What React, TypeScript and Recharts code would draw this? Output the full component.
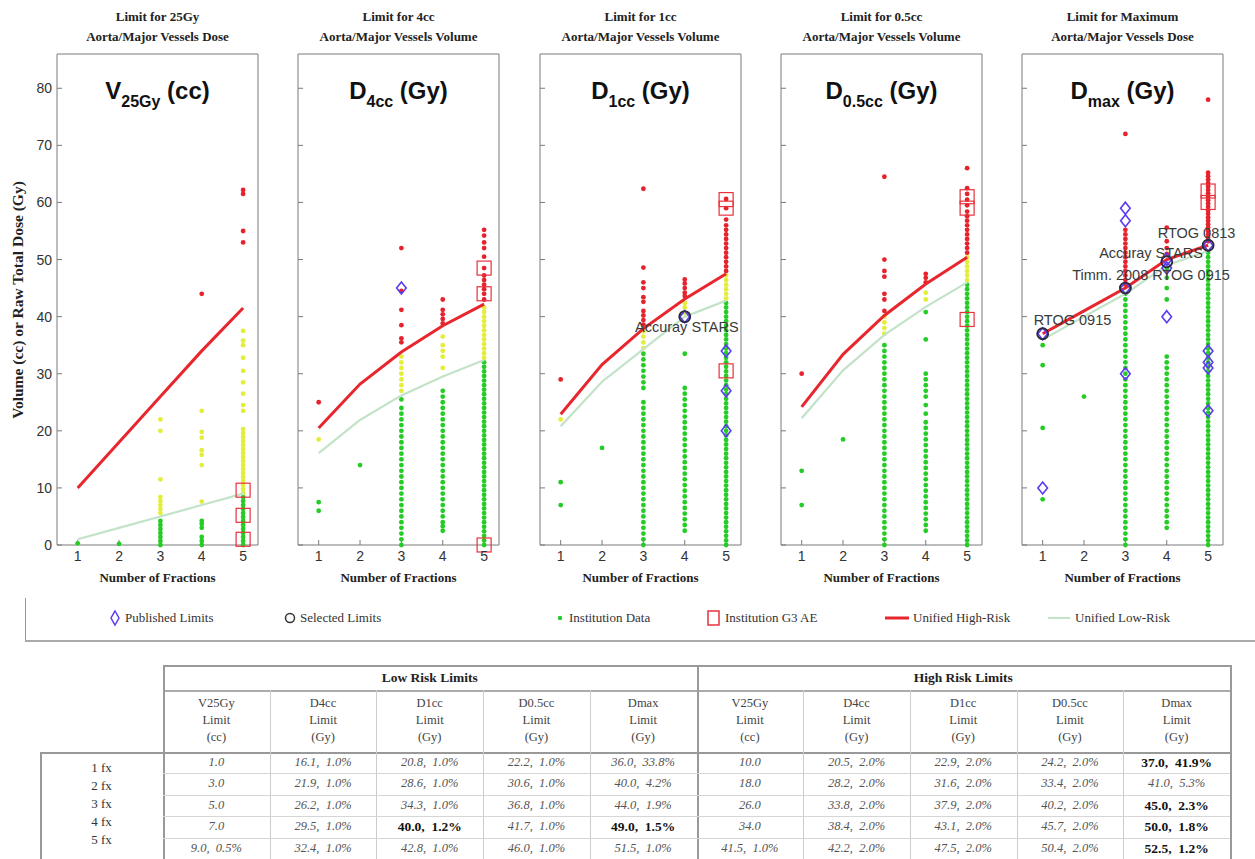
import React from 'react';
import { ScatterChart, Scatter, XAxis, YAxis } from 'recharts';

// ---------- categories / ticks ----------
const FRACTIONS = [1, 2, 3, 4, 5];
const Y_TICKS = [0, 10, 20, 30, 40, 50, 60, 70, 80];
const FX_LABELS = ['1 fx', '2 fx', '3 fx', '4 fx', '5 fx'];

const TITLE_LINE1 = ['Limit for 25Gy', 'Limit for 4cc', 'Limit for 1cc', 'Limit for 0.5cc', 'Limit for Maximum'];
const TITLE_LINE2 = ['Aorta/Major Vessels Dose', 'Aorta/Major Vessels Volume', 'Aorta/Major Vessels Volume', 'Aorta/Major Vessels Volume', 'Aorta/Major Vessels Dose'];
const METRIC_MAIN = ['V', 'D', 'D', 'D', 'D'];
const METRIC_SUB = ['25Gy', '4cc', '1cc', '0.5cc', 'max'];
const METRIC_UNIT = ['(cc)', '(Gy)', '(Gy)', '(Gy)', '(Gy)'];
const TABLE_METRIC = ['V25Gy', 'D4cc', 'D1cc', 'D0.5cc', 'Dmax'];

// ---------- limits (unified low / high risk) ----------
const LOW_V25 = [1.0, 3.0, 5.0, 7.0, 9.0];
const LOW_D4CC = [16.1, 21.9, 26.2, 29.5, 32.4];
const LOW_D1CC = [20.8, 28.6, 34.3, 40.0, 42.8];
const LOW_D05CC = [22.2, 30.6, 36.8, 41.7, 46.0];
const LOW_DMAX = [36.0, 40.0, 44.0, 49.0, 51.5];
const HIGH_V25 = [10.0, 18.0, 26.0, 34.0, 41.5];
const HIGH_D4CC = [20.5, 28.2, 33.8, 38.4, 42.2];
const HIGH_D1CC = [22.9, 31.6, 37.9, 43.1, 47.5];
const HIGH_D05CC = [24.2, 33.4, 40.2, 45.7, 50.4];
const HIGH_DMAX = [37.0, 41.0, 45.0, 50.0, 52.5];

const LOW_V25_PCT = ['', '', '', '', '0.5%'];
const LOW_D4CC_PCT = ['1.0%', '1.0%', '1.0%', '1.0%', '1.0%'];
const LOW_D1CC_PCT = ['1.0%', '1.0%', '1.0%', '1.2%', '1.0%'];
const LOW_D05CC_PCT = ['1.0%', '1.0%', '1.0%', '1.0%', '1.0%'];
const LOW_DMAX_PCT = ['33.8%', '4.2%', '1.9%', '1.5%', '1.0%'];
const HIGH_V25_PCT = ['', '', '', '', '1.0%'];
const HIGH_D4CC_PCT = ['2.0%', '2.0%', '2.0%', '2.0%', '2.0%'];
const HIGH_D1CC_PCT = ['2.0%', '2.0%', '2.0%', '2.0%', '2.0%'];
const HIGH_D05CC_PCT = ['2.0%', '2.0%', '2.0%', '2.0%', '2.0%'];
const HIGH_DMAX_PCT = ['41.9%', '5.3%', '2.3%', '1.8%', '1.2%'];

const LOW_BOLD = [[], [], [3], [], [3]];
const HIGH_BOLD = [[], [], [], [], [0, 2, 3, 4]];

// ---------- institution data (per panel, per fraction count) ----------
const INST_V25 = [
  [0.3],
  [0.2],
  [0, 0.7, 1.4, 2.1, 2.8, 3.5, 4.2, 5.6, 6.3, 7, 7.7, 8.4, 11.5, 20, 22],
  [0, 0.7, 1.4, 3, 3.7, 4.2, 7.6, 14, 15.8, 16.6, 18.8, 19.8, 23.5, 44],
  [0, 0.7, 1.4, 2.1, 2.8, 3.5, 4.2, 4.9, 5.6, 6.3, 7, 7.7, 8.4, 9.1, 9.8, 10.5, 11.2, 11.9, 12.6, 13.3, 14, 14.7, 15.4, 16.1, 16.8, 17.5, 18.2, 18.9, 19.6, 20.3, 23.5, 24.5, 26.5, 28.5, 30.5, 32.8, 35, 35.8, 37.5, 53, 55, 61.5, 62.2],
];
const INST_D4CC = [
  [6, 7.5, 18.5, 25],
  [14],
  [0, 1, 2, 3, 4, 5, 6, 7, 8, 9, 10, 11, 12, 13, 14, 15, 16, 17, 18, 19, 20, 21, 22, 23, 24, 25.5, 27, 28, 29, 30, 31, 32, 33, 35.5, 36.2, 38.5, 41.2, 44.5, 52],
  [2.5, 3.3, 4, 5, 6, 7, 8, 9, 10, 11, 12, 13, 14, 15, 16, 17, 18, 19, 20, 21, 22, 23, 24, 25, 26, 27, 31, 33, 34, 35, 36.5, 38.8, 39.6, 40.4, 41.2, 43],
  [0, 0.8, 1.6, 2.4, 3.2, 4, 4.8, 5.6, 6.4, 7.2, 8, 8.8, 9.6, 10.4, 11.2, 12, 12.8, 13.6, 14.4, 15.2, 16, 16.8, 17.6, 18.4, 19.2, 20, 20.8, 21.6, 22.4, 23.2, 24, 24.8, 25.6, 26.4, 27.2, 28, 28.8, 29.6, 30.4, 31.2, 32, 32.8, 33.6, 34.4, 35.2, 36, 36.8, 37.6, 38.4, 39.2, 40, 40.8, 41.6, 43, 44, 44.8, 45.6, 46.4, 47.2, 48.5, 50.5, 52, 53, 54.2, 55.2],
];
const INST_D1CC = [
  [7, 11, 22, 29],
  [17],
  [0, 1, 2, 3, 4, 5, 6, 7, 8, 9, 10, 11, 12, 13, 14, 15, 16, 17, 18, 19, 20, 21, 22, 23, 24, 25, 27.5, 28.5, 29.5, 30.5, 31.5, 32.5, 33.5, 34.5, 35.5, 36.5, 37.4, 38.6, 39.4, 40.2, 41, 42.6, 43.4, 45, 46, 48.6, 62.4],
  [2.5, 3.5, 4.5, 5.5, 6.5, 7.5, 8.5, 9.5, 10.5, 11.5, 12.5, 13.5, 14.5, 15.5, 16.5, 17.5, 18.5, 19.5, 20.5, 21.5, 22.5, 23.5, 24.5, 25.5, 26.5, 27.5, 33.5, 40.6, 41.6, 42.4, 43.6, 44.2, 45, 45.8, 46.5],
  [0, 0.8, 1.6, 2.4, 3.2, 4, 4.8, 5.6, 6.4, 7.2, 8, 8.8, 9.6, 10.4, 11.2, 12, 12.8, 13.6, 14.4, 15.2, 16, 16.8, 17.6, 18.4, 19.2, 20, 20.8, 21.6, 22.4, 23.2, 24, 24.8, 25.6, 26.4, 27.2, 28, 28.8, 29.6, 30.4, 31.2, 32, 32.8, 33.6, 34.4, 35.2, 36, 36.8, 37.6, 38.4, 39.2, 40, 40.8, 41.6, 42.4, 43.2, 44, 44.8, 45.6, 46.4, 47.2, 48, 48.8, 49.6, 50.4, 51.2, 52, 52.8, 53.6, 54.4, 55.2, 56, 57, 59, 60.6],
];
const INST_D05CC = [
  [7, 13, 30],
  [18.5],
  [0, 1, 2, 3, 4, 5, 6, 7, 8, 9, 10, 11, 12, 13, 14, 15, 16, 17, 18, 19, 20, 21, 22, 23, 24, 25, 26, 27, 28, 29, 30, 31, 32, 33, 34, 35, 37, 38, 39, 40, 41, 43, 44, 47, 48, 50, 64.5],
  [2.5, 3.5, 4.5, 5.5, 6.5, 7.5, 8.5, 9.5, 10.5, 11.5, 12.5, 13.5, 14.5, 15.5, 16.5, 17.5, 18.5, 19.5, 20.5, 21.5, 23, 24.5, 26, 27, 28, 29, 30, 36, 40.8, 43, 44.2, 46, 46.8, 47.5],
  [0, 0.8, 1.6, 2.4, 3.2, 4, 4.8, 5.6, 6.4, 7.2, 8, 8.8, 9.6, 10.4, 11.2, 12, 12.8, 13.6, 14.4, 15.2, 16, 16.8, 17.6, 18.4, 19.2, 20, 20.8, 21.6, 22.4, 23.2, 24, 24.8, 25.6, 26.4, 27.2, 28, 28.8, 29.6, 30.4, 31.2, 32, 32.8, 33.6, 34.4, 35.2, 36, 36.8, 37.6, 38.4, 39.2, 40, 40.8, 41.6, 42.4, 43.2, 44, 44.8, 45.6, 46.4, 47.2, 48, 48.8, 49.6, 50.4, 51.2, 52, 52.8, 53.6, 54.4, 55.2, 56, 56.8, 57.6, 58.4, 59.5, 60.5, 61.5, 62.5, 66],
];
const INST_DMAX = [
  [8, 20.5, 31.5, 35],
  [26],
  [0, 1, 2, 3, 4, 5, 6, 7, 8, 9, 10, 11, 12, 13, 14, 15, 16, 17, 18, 19, 20, 21, 22, 23, 24, 25, 26, 27, 28, 29, 30, 31, 32, 33, 34, 35, 36, 37, 38, 39, 40, 41, 42, 43, 44, 45.6, 46.4, 47.2, 48, 48.8, 49.6, 50.4, 51.2, 52, 52.8, 53.6, 54.4, 55.2, 72],
  [3, 4, 5, 6, 7, 8, 9, 10, 11, 12, 13, 14, 15, 16, 17, 18, 19, 20, 21, 22, 23, 24, 25, 26, 27, 28, 29, 30, 31, 32, 33, 43, 45, 46.8, 48.4, 51, 52, 53.2, 55.6],
  [0, 0.8, 1.6, 2.4, 3.2, 4, 4.8, 5.6, 6.4, 7.2, 8, 8.8, 9.6, 10.4, 11.2, 12, 12.8, 13.6, 14.4, 15.2, 16, 16.8, 17.6, 18.4, 19.2, 20, 20.8, 21.6, 22.4, 23.2, 24, 24.8, 25.6, 26.4, 27.2, 28, 28.8, 29.6, 30.4, 31.2, 32, 32.8, 33.6, 34.4, 35.2, 36, 36.8, 37.6, 38.4, 39.2, 40, 40.8, 41.6, 42.4, 43.2, 44, 44.8, 45.6, 46.4, 47.2, 48, 48.8, 49.6, 50.4, 51.2, 53.2, 53.8, 54.4, 55, 55.6, 56.2, 56.8, 57.4, 58, 58.6, 59.2, 59.8, 60.4, 61, 61.6, 62.2, 62.8, 63.4, 64, 64.6, 65.2, 78],
];

// ---------- G3 adverse events ----------
const G3_V25 = [{ x: 5, y: 1 }, { x: 5, y: 5.2 }, { x: 5, y: 9.6 }];
const G3_D4CC = [{ x: 5, y: 0 }, { x: 5, y: 44 }, { x: 5, y: 48.5 }];
const G3_D1CC = [{ x: 5, y: 59 }, { x: 5, y: 60.5 }, { x: 5, y: 30.5 }];
const G3_D05CC = [{ x: 5, y: 39.5 }, { x: 5, y: 59 }, { x: 5, y: 61 }];
const G3_DMAX = [{ x: 5, y: 60 }, { x: 5, y: 62 }];

// ---------- published / selected limits ----------
const PUB_V25: { x: number; y: number }[] = [];
const PUB_D4CC = [{ x: 3, y: 45 }];
const PUB_D1CC = [{ x: 4, y: 40 }, { x: 5, y: 34 }, { x: 5, y: 27 }, { x: 5, y: 20 }];
const PUB_D05CC: { x: number; y: number }[] = [];
const PUB_DMAX = [
  { x: 1, y: 37 }, { x: 1, y: 10 }, { x: 3, y: 59 }, { x: 3, y: 56.8 }, { x: 3, y: 30 }, { x: 3, y: 45 },
  { x: 4, y: 50 }, { x: 4, y: 48.5 }, { x: 4, y: 40 }, { x: 5, y: 52.5 }, { x: 5, y: 34 }, { x: 5, y: 32 },
  { x: 5, y: 31 }, { x: 5, y: 23.5 },
];
const SEL_V25: { x: number; y: number }[] = [];
const SEL_D4CC: { x: number; y: number }[] = [];
const SEL_D1CC = [{ x: 4, y: 40 }];
const SEL_D05CC: { x: number; y: number }[] = [];
const SEL_DMAX = [{ x: 1, y: 37 }, { x: 3, y: 45 }, { x: 4, y: 49.6 }, { x: 5, y: 52.5 }];

// ---------- annotations ----------
const NOTES_V25: { x: number; y: number; text: string }[] = [];
const NOTES_D4CC: { x: number; y: number; text: string }[] = [];
const NOTES_D1CC = [{ x: 4.05, y: 38.2, text: 'Accuray STARS' }];
const NOTES_D05CC: { x: number; y: number; text: string }[] = [];
const NOTES_DMAX = [
  { x: 1.72, y: 39.4, text: 'RTOG 0915' },
  { x: 3.62, y: 47.3, text: 'Timm. 2008 RTOG 0915' },
  { x: 3.62, y: 51.1, text: 'Accuray STARS' },
  { x: 4.72, y: 54.6, text: 'RTOG 0813' },
];

// ---------- assembled config ----------
const LOWS = [LOW_V25, LOW_D4CC, LOW_D1CC, LOW_D05CC, LOW_DMAX];
const HIGHS = [HIGH_V25, HIGH_D4CC, HIGH_D1CC, HIGH_D05CC, HIGH_DMAX];
const LOW_PCTS = [LOW_V25_PCT, LOW_D4CC_PCT, LOW_D1CC_PCT, LOW_D05CC_PCT, LOW_DMAX_PCT];
const HIGH_PCTS = [HIGH_V25_PCT, HIGH_D4CC_PCT, HIGH_D1CC_PCT, HIGH_D05CC_PCT, HIGH_DMAX_PCT];
const INSTS = [INST_V25, INST_D4CC, INST_D1CC, INST_D05CC, INST_DMAX];
const G3S = [G3_V25, G3_D4CC, G3_D1CC, G3_D05CC, G3_DMAX];
const PUBS = [PUB_V25, PUB_D4CC, PUB_D1CC, PUB_D05CC, PUB_DMAX];
const SELS = [SEL_V25, SEL_D4CC, SEL_D1CC, SEL_D05CC, SEL_DMAX];
const NOTES = [NOTES_V25, NOTES_D4CC, NOTES_D1CC, NOTES_D05CC, NOTES_DMAX];

// ---------- layout ----------
const PANEL_LEFTS = [57, 298, 540, 781, 1022];
const PLOT_W = 201;
const PLOT_TOP = 54;
const PLOT_BOTTOM = 545;
const SIDE = 45;
const CHART_H = 600;
const X_DOMAIN: [number, number] = [0.5, 5.36];
const Y_DOMAIN: [number, number] = [0, 86];

const GREEN = '#25cc25';
const YELLOW = '#e2ee3a';
const RED = '#e6222c';
const LOW_LINE = '#c2e3c8';
const HIGH_LINE = '#e8262e';
const AXIS = '#7a7a7a';
const SERIF = '"Liberation Serif", "Times New Roman", serif';
const SANS = '"Liberation Sans", Arial, sans-serif';

const makeDot = (color: string) => (p: any) => <circle cx={p.cx} cy={p.cy} r={2.4} fill={color} />;
const noShape = () => <g />;
const diamond = (p: any) => (
  <path d={`M${p.cx},${p.cy - 6} L${p.cx + 4.8},${p.cy} L${p.cx},${p.cy + 6} L${p.cx - 4.8},${p.cy} Z`} fill="none" stroke="#5a3cf0" strokeWidth={1.6} />
);
const selCircle = (p: any) => <circle cx={p.cx} cy={p.cy} r={5.5} fill="none" stroke="#2a2a3a" strokeWidth={1.8} />;
const g3Square = (p: any) => <rect x={p.cx - 7} y={p.cy - 7} width={14} height={14} fill="none" stroke="#e8323c" strokeWidth={1.2} />;
const noteText = (p: any) => (
  <text x={p.cx} y={p.cy} textAnchor="middle" dominantBaseline="central" fontSize={14.5} fontFamily={SANS} fill="#3a3a3a">
    {p.payload?.text}
  </text>
);

function Panel({ idx }: { idx: number }) {
  const low = LOWS[idx];
  const high = HIGHS[idx];
  const green: { x: number; y: number }[] = [];
  const yellow: { x: number; y: number }[] = [];
  const red: { x: number; y: number }[] = [];
  INSTS[idx].forEach((vals, fi) => {
    vals.forEach((v) => {
      const pt = { x: FRACTIONS[fi], y: v };
      if (v <= low[fi]) green.push(pt);
      else if (v <= high[fi]) yellow.push(pt);
      else red.push(pt);
    });
  });
  const lowPts = FRACTIONS.map((f, i) => ({ x: f, y: low[i] }));
  const highPts = FRACTIONS.map((f, i) => ({ x: f, y: high[i] }));
  const tickStyle = { fill: '#333', fontSize: 14, fontFamily: SANS };
  const left = PANEL_LEFTS[idx];
  return (
    <div style={{ position: 'absolute', left: left - SIDE, top: 0 }}>
      <ScatterChart width={PLOT_W + 2 * SIDE} height={CHART_H} margin={{ top: PLOT_TOP - 30, right: 0, bottom: 0, left: 0 }}>
        <XAxis xAxisId="b" type="number" dataKey="x" domain={X_DOMAIN} ticks={FRACTIONS} interval={0} orientation="bottom" height={CHART_H - PLOT_BOTTOM} tickSize={-5} tickMargin={11} stroke={AXIS} tick={tickStyle} />
        <XAxis xAxisId="t" type="number" dataKey="x" domain={X_DOMAIN} ticks={FRACTIONS} interval={0} orientation="top" height={30} tickSize={-5} stroke={AXIS} tick={() => <g />} />
        <YAxis yAxisId="l" type="number" dataKey="y" domain={Y_DOMAIN} ticks={Y_TICKS} interval={0} orientation="left" width={SIDE} tickSize={-5} tickMargin={10} stroke={AXIS} tick={idx === 0 ? tickStyle : () => <g />} />
        <YAxis yAxisId="r" type="number" dataKey="y" domain={Y_DOMAIN} ticks={Y_TICKS} interval={0} orientation="right" width={SIDE} tickSize={-5} tickMargin={9} stroke={AXIS} tick={idx === 4 ? tickStyle : () => <g />} />
        <Scatter xAxisId="b" yAxisId="l" data={green} shape={makeDot(GREEN)} isAnimationActive={false} />
        <Scatter xAxisId="b" yAxisId="l" data={yellow} shape={makeDot(YELLOW)} isAnimationActive={false} />
        <Scatter xAxisId="b" yAxisId="l" data={red} shape={makeDot(RED)} isAnimationActive={false} />
        <Scatter xAxisId="b" yAxisId="l" data={lowPts} line={{ stroke: LOW_LINE, strokeWidth: 2.2 }} lineType="joint" shape={noShape} isAnimationActive={false} />
        <Scatter xAxisId="b" yAxisId="l" data={highPts} line={{ stroke: HIGH_LINE, strokeWidth: 3 }} lineType="joint" shape={noShape} isAnimationActive={false} />
        <Scatter xAxisId="b" yAxisId="l" data={G3S[idx]} shape={g3Square} isAnimationActive={false} />
        <Scatter xAxisId="b" yAxisId="l" data={PUBS[idx]} shape={diamond} isAnimationActive={false} />
        <Scatter xAxisId="b" yAxisId="l" data={SELS[idx]} shape={selCircle} isAnimationActive={false} />
        <Scatter xAxisId="b" yAxisId="l" data={NOTES[idx]} shape={noteText} isAnimationActive={false} />
      </ScatterChart>
    </div>
  );
}

function PanelTexts({ idx }: { idx: number }) {
  const cx = PANEL_LEFTS[idx] + PLOT_W / 2;
  return (
    <>
      <div style={{ position: 'absolute', left: cx - 120, width: 240, top: 7, textAlign: 'center', fontFamily: SERIF, fontWeight: 'bold', fontSize: 13, lineHeight: '20px', color: '#222' }}>
        {TITLE_LINE1[idx]}
        <br />
        {TITLE_LINE2[idx]}
      </div>
      <div style={{ position: 'absolute', left: cx - 110, width: 220, top: 76, textAlign: 'center', fontFamily: SANS, fontWeight: 'bold', fontSize: 24, color: '#111', lineHeight: '30px', whiteSpace: 'nowrap' }}>
        {METRIC_MAIN[idx]}
        <span style={{ fontSize: 16, position: 'relative', top: 8 }}>{METRIC_SUB[idx]}</span> {METRIC_UNIT[idx]}
      </div>
      <div style={{ position: 'absolute', left: cx - 110, width: 220, top: 570, textAlign: 'center', fontFamily: SERIF, fontWeight: 'bold', fontSize: 13, color: '#222' }}>
        Number of Fractions
      </div>
    </>
  );
}

function Legend() {
  const txt: React.CSSProperties = { position: 'absolute', top: 610, fontFamily: SERIF, fontSize: 13, color: '#333', whiteSpace: 'nowrap' };
  return (
    <>
      <div style={{ position: 'absolute', left: 25, top: 598, width: 1, height: 42, background: '#999' }} />
      <div style={{ position: 'absolute', left: 25, top: 640, width: 1230, height: 2, background: '#aaa' }} />
      <svg style={{ position: 'absolute', left: 0, top: 600 }} width={1255} height={36}>
        <path d="M115,11 L119,18 L115,25 L111,18 Z" fill="none" stroke="#5a3cf0" strokeWidth={1.5} />
        <circle cx={290} cy={18} r={4.5} fill="none" stroke="#333" strokeWidth={1.5} />
        <circle cx={560} cy={18} r={2.2} fill={GREEN} />
        <rect x={708} y={11} width={11} height={14} fill="none" stroke="#e8323c" strokeWidth={1.5} />
        <line x1={885} y1={18} x2={909} y2={18} stroke={HIGH_LINE} strokeWidth={3} />
        <line x1={1048} y1={18} x2={1070} y2={18} stroke={LOW_LINE} strokeWidth={2} />
      </svg>
      <div style={{ ...txt, left: 125 }}>Published Limits</div>
      <div style={{ ...txt, left: 300 }}>Selected Limits</div>
      <div style={{ ...txt, left: 569 }}>Institution Data</div>
      <div style={{ ...txt, left: 725 }}>Institution G3 AE</div>
      <div style={{ ...txt, left: 913 }}>Unified High-Risk</div>
      <div style={{ ...txt, left: 1075 }}>Unified Low-Risk</div>
    </>
  );
}

const T_LEFT = 163;
const T_RIGHT = 1230;
const T_TOP = 665;
const T_H1 = 690;
const T_H2 = 752;
const ROW_H = 21.4;
const LABEL_LEFT = 40;
const COL_W = (T_RIGHT - T_LEFT) / 10;

function Table() {
  const lines: React.ReactNode[] = [];
  const hl = (key: string, x1: number, x2: number, y: number, color: string, w = 1) =>
    lines.push(<div key={key} style={{ position: 'absolute', left: x1, top: y, width: x2 - x1, height: w, background: color }} />);
  const vl = (key: string, x: number, y1: number, y2: number, color: string, w = 1) =>
    lines.push(<div key={key} style={{ position: 'absolute', left: x, top: y1, width: w, height: y2 - y1, background: color }} />);
  hl('t0', T_LEFT, T_RIGHT, T_TOP, '#999', 2);
  hl('t1', T_LEFT, T_RIGHT, T_H1, '#aaa', 2);
  hl('t2', LABEL_LEFT, T_RIGHT, T_H2, '#999', 2);
  vl('v0', T_LEFT, T_TOP, 859, '#999', 2);
  vl('vr', T_RIGHT, T_TOP, 859, '#999', 2);
  vl('vm', T_LEFT + 5 * COL_W, T_TOP, 859, '#999', 2);
  vl('vl', LABEL_LEFT, T_H2, 859, '#999', 2);
  for (let c = 1; c < 10; c++) if (c !== 5) vl('c' + c, T_LEFT + c * COL_W, T_H1, 859, '#ccc');
  for (let r = 1; r < 5; r++) hl('r' + r, T_LEFT, T_RIGHT, T_H2 + r * ROW_H, '#d6d6d6');

  const cells: React.ReactNode[] = [];
  const headTxt: React.CSSProperties = { position: 'absolute', textAlign: 'center', fontFamily: SERIF, color: '#222' };
  cells.push(<div key="hlow" style={{ ...headTxt, left: T_LEFT, width: 5 * COL_W, top: T_TOP + 5, fontWeight: 'bold', fontSize: 13.5 }}>Low Risk Limits</div>);
  cells.push(<div key="hhigh" style={{ ...headTxt, left: T_LEFT + 5 * COL_W, width: 5 * COL_W, top: T_TOP + 5, fontWeight: 'bold', fontSize: 13.5 }}>High Risk Limits</div>);
  for (let g = 0; g < 2; g++) {
    for (let m = 0; m < 5; m++) {
      const x = T_LEFT + (g * 5 + m) * COL_W;
      cells.push(
        <div key={`h2-${g}-${m}`} style={{ ...headTxt, left: x, width: COL_W, top: T_H1 + 5, fontSize: 12.5, lineHeight: '17px', color: '#444' }}>
          {TABLE_METRIC[m]}
          <br />
          Limit
          <br />
          {METRIC_UNIT[m]}
        </div>
      );
      const vals = g === 0 ? LOWS[m] : HIGHS[m];
      const pcts = g === 0 ? LOW_PCTS[m] : HIGH_PCTS[m];
      const bold = g === 0 ? LOW_BOLD[m] : HIGH_BOLD[m];
      vals.forEach((v, r) => {
        const isBold = bold.includes(r);
        const text = v.toFixed(1) + (pcts[r] ? ',  ' + pcts[r] : '');
        cells.push(
          <div key={`d-${g}-${m}-${r}`} style={{ position: 'absolute', left: x, width: COL_W, top: T_H2 + r * ROW_H + 3, textAlign: 'center', fontFamily: SERIF, fontSize: isBold ? 13.5 : 12.5, fontStyle: isBold ? 'normal' : 'italic', fontWeight: isBold ? 'bold' : 'normal', color: isBold ? '#111' : '#555', whiteSpace: 'pre' }}>
            {text}
          </div>
        );
      });
    }
  }
  FX_LABELS.forEach((l, r) => {
    cells.push(
      <div key={'fx' + r} style={{ position: 'absolute', left: LABEL_LEFT, width: T_LEFT - LABEL_LEFT, top: T_H2 + 8 + r * 18, textAlign: 'center', fontFamily: SERIF, fontSize: 13, color: '#333' }}>
        {l}
      </div>
    );
  });
  return (
    <>
      {lines}
      {cells}
    </>
  );
}

export default function App() {
  return (
    <div style={{ position: 'absolute', left: 0, top: 0, width: 1255, height: 859, background: '#fff', overflow: 'hidden' }}>
      {FRACTIONS.map((_, i) => (
        <Panel key={'p' + i} idx={i} />
      ))}
      {FRACTIONS.map((_, i) => (
        <PanelTexts key={'t' + i} idx={i} />
      ))}
      <div style={{ position: 'absolute', left: 18, top: 300, transform: 'translate(-50%, -50%) rotate(-90deg)', fontFamily: SERIF, fontWeight: 'bold', fontSize: 15.5, color: '#222', whiteSpace: 'nowrap' }}>
        Volume (cc) or Raw Total Dose (Gy)
      </div>
      <Legend />
      <Table />
    </div>
  );
}
